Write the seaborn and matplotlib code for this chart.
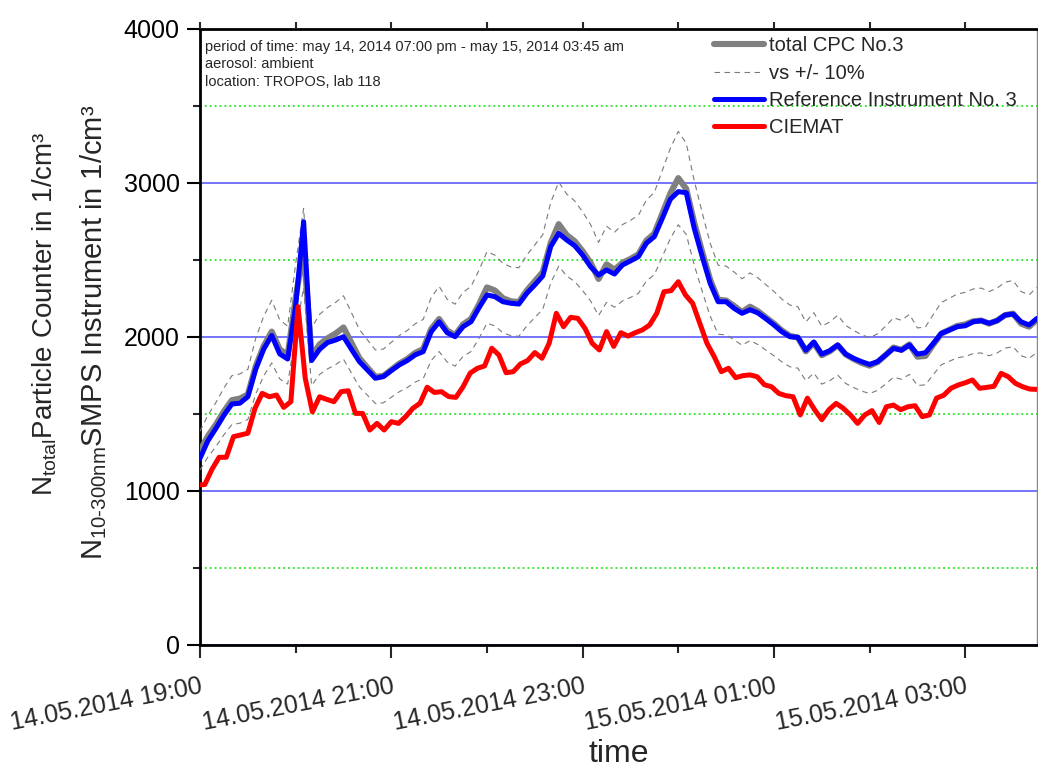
import matplotlib
matplotlib.use("Agg")
import matplotlib.pyplot as plt
import matplotlib.dates as mdates
from matplotlib.ticker import MultipleLocator
import pandas as pd
import seaborn as sns

# Measurement window
START = pd.Timestamp("2014-05-14 19:00")
END = pd.Timestamp("2014-05-15 03:45")

# total CPC No.3 (5-min values, 1/cm³)
cpc_total = [
    1260, 1355, 1430, 1515, 1588, 1598, 1625, 1810, 1940, 2033,
    1918, 1880, 2250, 2576, 1870, 1950, 1990, 2020, 2060, 1960,
    1860, 1800, 1740, 1745, 1785, 1825, 1855, 1895, 1920, 2050,
    2115, 2040, 2010, 2080, 2115, 2210, 2320, 2300, 2250, 2230,
    2225, 2300, 2360, 2420, 2610, 2731, 2660, 2620, 2555, 2480,
    2375, 2470, 2435, 2480, 2505, 2535, 2625, 2670, 2800, 2930,
    3030, 2960, 2740, 2550, 2370, 2240, 2235, 2200, 2160, 2195,
    2165, 2125, 2085, 2040, 2005, 1995, 1905, 1960, 1880, 1905,
    1945, 1885, 1855, 1830, 1812, 1835, 1880, 1930, 1915, 1950,
    1870, 1875, 1950, 2020, 2045, 2070, 2080, 2100, 2105, 2085,
    2105, 2140, 2150, 2085, 2065, 2110,
]

# Reference Instrument No. 3 (5-min values, 1/cm³)
reference = [
    1210, 1325, 1405, 1490, 1563, 1568, 1610, 1790, 1920, 2008,
    1888, 1855, 2200, 2747, 1845, 1918, 1962, 1978, 2000, 1918,
    1838, 1784, 1730, 1741, 1780, 1817, 1845, 1882, 1903, 2032,
    2097, 2026, 2000, 2065, 2097, 2188, 2271, 2260, 2227, 2217,
    2212, 2282, 2336, 2394, 2586, 2671, 2628, 2591, 2530, 2454,
    2400, 2433, 2407, 2466, 2492, 2520, 2607, 2650, 2769, 2892,
    2942, 2935, 2704, 2520, 2346, 2227, 2227, 2184, 2152, 2175,
    2154, 2116, 2076, 2032, 2000, 1996, 1912, 1966, 1887, 1909,
    1946, 1887, 1859, 1838, 1820, 1838, 1881, 1924, 1912, 1946,
    1887, 1896, 1957, 2022, 2043, 2065, 2071, 2097, 2104, 2087,
    2104, 2141, 2147, 2097, 2076, 2119,
]

# CIEMAT SMPS (4.5-min scans, 1/cm³)
ciemat = [
    1037, 1040, 1139, 1217, 1217, 1351, 1362, 1373, 1535, 1632,
    1610, 1621, 1541, 1578, 2195, 1730, 1512, 1610, 1593, 1578,
    1643, 1649, 1502, 1502, 1394, 1437, 1394, 1448, 1437, 1481,
    1535, 1568, 1672, 1638, 1643, 1611, 1606, 1675, 1764, 1795,
    1810, 1925, 1881, 1766, 1773, 1823, 1845, 1897, 1860, 1957,
    2152, 2065, 2126, 2119, 2054, 1957, 1914, 2033, 1937, 2026,
    2004, 2026, 2044, 2076, 2152, 2292, 2299, 2357, 2271, 2217,
    2087, 1957, 1871, 1773, 1795, 1734, 1747, 1752, 1740, 1688,
    1675, 1632, 1617, 1610, 1492, 1601, 1526, 1461, 1526, 1567,
    1535, 1492, 1437, 1492, 1520, 1443, 1545, 1556, 1526, 1545,
    1552, 1481, 1492, 1601, 1620, 1665, 1686, 1701, 1719, 1665,
    1671, 1678, 1762, 1740, 1697, 1675, 1660, 1658,
]

BAND = 0.10  # +/- 10 % around the total CPC

cpc_df = pd.DataFrame({
    "time": pd.date_range(START, periods=len(cpc_total), freq="5min"),
    "cpc": cpc_total,
    "ref": reference,
})
cpc_df["upper"] = cpc_df["cpc"] * (1 + BAND)
cpc_df["lower"] = cpc_df["cpc"] * (1 - BAND)

smps_df = pd.DataFrame({
    "time": pd.date_range("2014-05-14 18:58:30", periods=len(ciemat), freq="270s"),
    "ciemat": ciemat,
})

sns.set_theme(style="ticks")
plt.rcParams["font.family"] = ["Liberation Sans", "DejaVu Sans"]
plt.rcParams["mathtext.fontset"] = "custom"
plt.rcParams["mathtext.rm"] = "Liberation Sans"
plt.rcParams["mathtext.it"] = "Liberation Sans:italic"

W, H = 1038, 769
fig = plt.figure(figsize=(W / 100, H / 100), dpi=100)
fig.patch.set_facecolor("white")
ax = fig.add_axes([200 / W, 1 - 644.7 / H, 837 / W, 616 / H])
ax.set_facecolor("white")

sns.lineplot(data=cpc_df, x="time", y="cpc", ax=ax, color="#808080",
             lw=4.4, label="total CPC No.3", estimator=None, zorder=3)
sns.lineplot(data=cpc_df, x="time", y="upper", ax=ax, color="#7a7a7a",
             lw=0.8, ls=(0, (5, 4)), label="vs +/- 10%", estimator=None, zorder=4)
sns.lineplot(data=cpc_df, x="time", y="lower", ax=ax, color="#7a7a7a",
             lw=0.8, ls=(0, (5, 4)), label="_nolegend_", estimator=None, zorder=4)
sns.lineplot(data=cpc_df, x="time", y="ref", ax=ax, color="#0000ff",
             lw=3.6, label="Reference Instrument No. 3", estimator=None, zorder=5)
sns.lineplot(data=smps_df, x="time", y="ciemat", ax=ax, color="#ff0000",
             lw=3.6, label="CIEMAT", estimator=None, zorder=6)

ax.set_xlim(START, END)
ax.set_ylim(0, 4000)

# y axis
ax.yaxis.set_major_locator(MultipleLocator(1000))
ax.yaxis.set_minor_locator(MultipleLocator(500))
ax.tick_params(axis="y", which="major", length=9.5, width=1.5, direction="out",
               labelsize=18, pad=5, colors="black")
ax.tick_params(axis="y", which="minor", length=5, width=1.5, direction="out")
ax.yaxis.grid(True, which="major", color="#5050ff", lw=1.1, zorder=1)
ax.yaxis.grid(True, which="minor", color="#00e000", lw=1.1, ls=(0, (1.2, 2.0)), zorder=1)
ax.xaxis.grid(False)

# x axis
ax.xaxis.set_major_locator(mdates.HourLocator(byhour=range(1, 24, 2)))
ax.xaxis.set_minor_locator(mdates.HourLocator())
ax.xaxis.set_major_formatter(mdates.DateFormatter("%d.%m.%Y %H:%M"))
ax.tick_params(axis="x", which="major", length=9.5, width=1.5, direction="out",
               labelsize=18, pad=12)
ax.tick_params(axis="x", which="minor", length=5.5, width=1.5, direction="out")
for lbl in ax.get_xticklabels():
    lbl.set_rotation(11)
    lbl.set_ha("right")
    lbl.set_va("top")
    lbl.set_rotation_mode("anchor")

for side in ("left", "bottom", "top"):
    ax.spines[side].set_color("black")
    ax.spines[side].set_linewidth(2)
ax.spines["right"].set_color("#888888")
ax.spines["right"].set_linewidth(1)

# hourly ticks along the top edge
top = ax.twiny()
top.set_xlim(mdates.date2num(START), mdates.date2num(END))
top.xaxis.set_major_locator(mdates.HourLocator())
top.tick_params(axis="x", which="major", length=5, width=1.5, direction="out",
                labeltop=False)
for s in top.spines.values():
    s.set_visible(False)

ax.set_xlabel("")
ax.set_ylabel("")

fig.text(45 / W, 1 - 314 / H, r"N$_{\mathrm{total}}$Particle Counter in 1/cm³",
         rotation=90, ha="center", va="center", fontsize=20)
fig.text(94 / W, 1 - 332 / H, r"N$_{\mathrm{10\text{-}300nm}}$SMPS Instrument in 1/cm³",
         rotation=90, ha="center", va="center", fontsize=21)
fig.text(619 / W, 1 - 762 / H, "time", ha="center", va="baseline", fontsize=23)

ax.text(0.006, 0.982,
        "period of time: may 14, 2014 07:00 pm - may 15, 2014 03:45 am\n"
        "aerosol: ambient\nlocation: TROPOS, lab 118",
        transform=ax.transAxes, ha="left", va="top", fontsize=10.5,
        linespacing=1.32, zorder=7)

leg = ax.legend(loc="upper left", bbox_to_anchor=(0.6146, 0.988), frameon=False,
                fontsize=14.5, labelspacing=0.42, handlelength=2.45, handletextpad=0.25,
                borderpad=0, borderaxespad=0)
leg.set_zorder(8)

fig.savefig("out.png", dpi=100, facecolor="white")
